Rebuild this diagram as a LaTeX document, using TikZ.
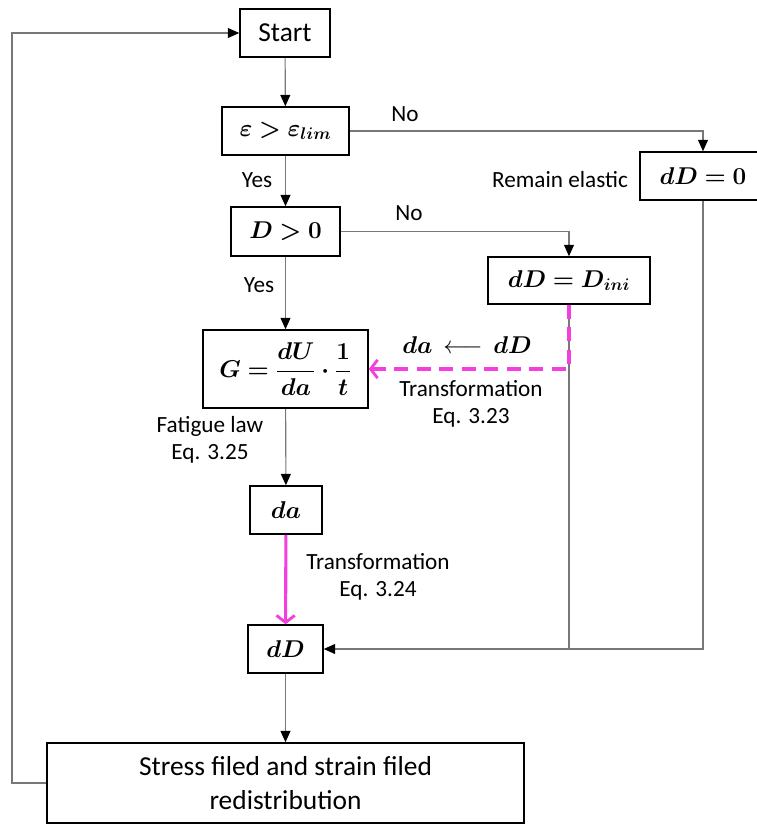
\documentclass[tikz,border=0pt]{standalone}
\usepackage{amsmath, amssymb}
\usepackage{bm}
\usepackage{fontspec}
\setmainfont{Carlito}
\usepackage{tikz}
\usetikzlibrary{positioning,arrows.meta,calc}
\definecolor{magLine}{RGB}{245,62,222}
\definecolor{lineGray}{RGB}{120,120,120}

\begin{document}
\begin{tikzpicture}[
  x=0.025cm, y=-0.025cm,
  font=\fontsize{16.5}{19.5}\selectfont,
  box/.style={draw, line width=1.1pt, inner sep=0pt, align=center,
              font=\fontsize{17}{20}\selectfont},
  lbl/.style={align=center, inner sep=0pt},
  arr/.style={-{Triangle[length=8pt,width=7pt,color=black]}, draw=lineGray, line width=0.8pt},
  plain/.style={draw=lineGray, line width=0.8pt},
  magArr/.style={-{Straight Barb[length=5pt,width=13pt,line width=2pt]},
                 draw=magLine, line width=2.2pt},
]
\useasboundingbox (0,0) rectangle (757,824);

% boxes
\node[box, minimum width=2.25cm, minimum height=1.2cm,
      font=\fontsize{19.5}{22}\selectfont] (start) at (285,33) {Start};
\node[box, minimum width=3.175cm, minimum height=1.2cm] (eps) at (285.5,131) {$\bm{\varepsilon > \varepsilon_{lim}}$};
\node[box, minimum width=2.725cm, minimum height=1.225cm] (dpos) at (285.5,231.5) {$\bm{D > 0}$};
\node[box, minimum width=4.05cm, minimum height=1.175cm] (dini) at (569,280.5) {$\bm{dD = D_{ini}}$};
\node[box, minimum width=4.125cm, minimum height=1.95cm] (G) at (285.5,369) {$\bm{G = \dfrac{dU}{da}\cdot\dfrac{1}{t}}$};
\node[box, minimum width=1.8cm, minimum height=1.2cm] (da) at (286,510) {$\bm{da}$};
\node[box, minimum width=1.875cm, minimum height=1.2cm] (dD) at (285.5,649) {$\bm{dD}$};
\node[box, minimum width=3.15cm, minimum height=1.2cm] (dzero) at (703,176) {$\bm{dD = 0}$};
\node[box, minimum width=11.925cm, minimum height=2.0cm,
      font=\fontsize{19.5}{24}\selectfont] (redis) at (285.5,783)
      {Stress filed and strain filed\\redistribution};

% labels
\node[lbl] (no1)  at (405,114) {No};
\node[lbl] (yes1) at (257,180) {Yes};
\node[lbl] (no2)  at (409,213) {No};
\node[lbl] (yes2) at (259,285) {Yes};
\node[lbl] (elastic) at (560,180) {Remain elastic};
\node[lbl, font=\fontsize{17}{20}\selectfont] (conv) at (467,345) {$\bm{da}\,\longleftarrow\,\bm{dD}$};
\node[lbl] (tr1) at (471,404) {Transformation\\Eq. 3.23};
\node[lbl] (fat) at (210,440) {Fatigue law\\Eq. 3.25};
\node[lbl] (tr2) at (378,577) {Transformation\\Eq. 3.24};

\coordinate (back) at (12,783);

% connectors
\draw[arr] (start) -- (eps);
\draw[arr] (eps) -- (dpos);
\draw[arr] (dpos) -- (G);
\draw[arr] (G) -- (da);
\draw[arr] (dD) -- (redis);
\draw[arr] (eps.east) -| (dzero.north);
\draw[arr] (dpos.east) -| (dini.north);
\draw[arr] (dzero.south) |- (dD.east);
\draw[plain] (dini.south) -- (dini.south |- dD.east);
\draw[arr] (redis.west) -- (back) |- (start.west);
\draw[magArr, dash pattern=on 10pt off 6pt] (dini.south) |- (G.east);
\draw[magArr] (da) -- (dD);
\end{tikzpicture}
\end{document}
